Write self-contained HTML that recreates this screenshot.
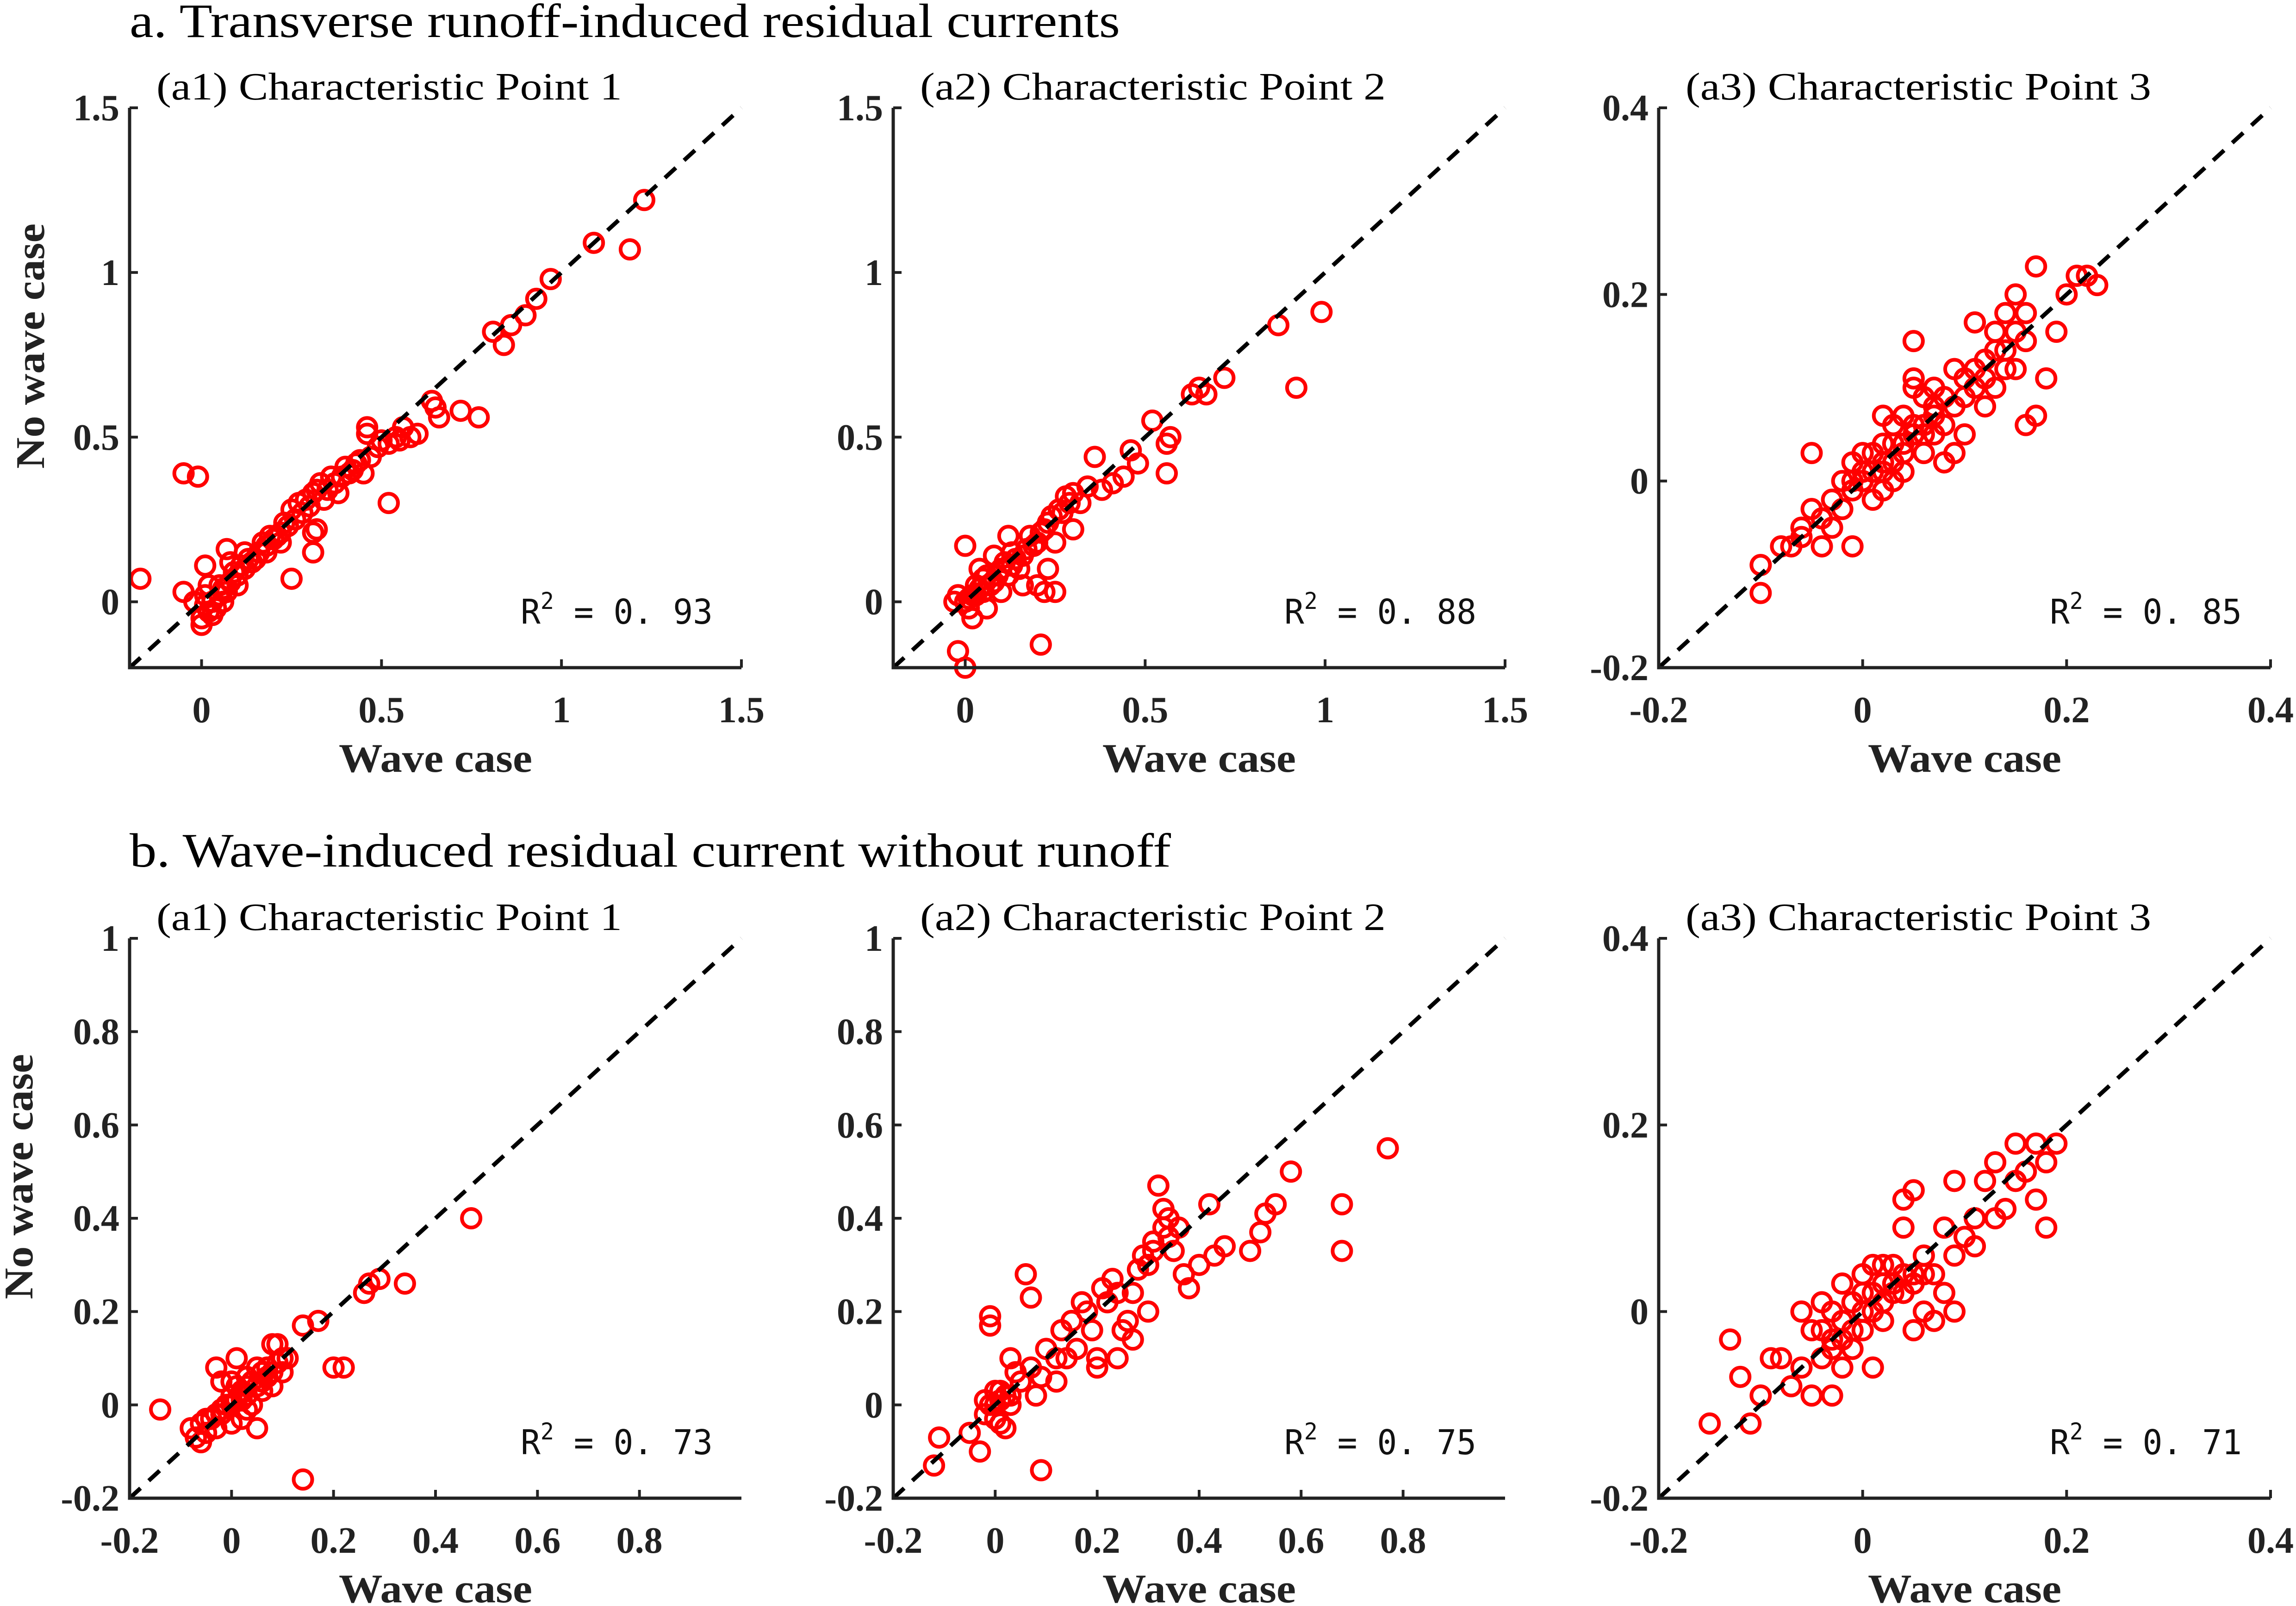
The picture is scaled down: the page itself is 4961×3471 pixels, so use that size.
<!DOCTYPE html>
<html><head><meta charset="utf-8"><style>
html,body{margin:0;padding:0;background:#fff;}
svg{display:block;}
</style></head><body>
<svg id="fig" width="4961" height="3471" viewBox="0 0 4961 3471" xmlns="http://www.w3.org/2000/svg">
<text x="280" y="80" font-family="Liberation Serif, serif" font-size="104" textLength="2140" lengthAdjust="spacingAndGlyphs">a. Transverse runoff-induced residual currents</text>
<text x="280" y="1873" font-family="Liberation Serif, serif" font-size="104" textLength="2250" lengthAdjust="spacingAndGlyphs">b. Wave-induced residual current without runoff</text>
</svg>
<script>
const a1Pts=[[-0.17,0.07],[-0.05,0.39],[-0.01,0.38],[-0.05,0.03],[0.01,0.11],[0.07,0.16],[0.12,0.15],[0.25,0.07],[0.31,0.15],[0.31,0.21],[0.32,0.22],[0.52,0.30],[0.46,0.53],[0.46,0.51],[0.56,0.53],[0.6,0.51],[0.64,0.61],[0.66,0.56],[0.72,0.58],[0.77,0.56],[0.65,0.59],[0.81,0.82],[0.84,0.78],[0.86,0.84],[0.9,0.87],[0.93,0.92],[0.97,0.98],[1.09,1.09],[1.19,1.07],[1.23,1.22],[0,-0.05],[0,-0.07],[0.02,-0.03],[0.03,0.0],[0.05,0.02],[0.06,0.04],[0.08,0.06],[0.1,0.08],[0.12,0.1],[0.14,0.12],[0.16,0.15],[0.18,0.17],[0.2,0.19],[0.22,0.21],[0.24,0.23],[0.26,0.25],[0.28,0.27],[0.3,0.29],[0.31,0.33],[0.33,0.36],[0.35,0.34],[0.37,0.36],[0.39,0.38],[0.4,0.41],[0.42,0.4],[0.44,0.43],[0.47,0.44],[0.49,0.47],[0.52,0.48],[0.55,0.49],[0.58,0.5],[0.27,0.3],[0.22,0.18],[0.18,0.15],[0.1,0.05],[0.04,-0.02],[-0.02,0.0],[0.01,0.02],[0.06,0.0],[0.34,0.31],[0.45,0.39],[0.38,0.33],[0.25,0.28],[0.15,0.13],[0.08,0.12],[0.02,0.05],[0.01,-0.01],[0.03,-0.04],[0.05,0.05],[0.07,0.03],[0.09,0.09],[0.11,0.11],[0.13,0.13],[0.17,0.18],[0.19,0.2],[0.21,0.2],[0.23,0.24],[0.29,0.31],[0.32,0.34],[0.36,0.38],[0.41,0.39],[0.43,0.42],[0.5,0.49],[0.54,0.5]];
const a2Pts=[[0,0.17],[-0.02,-0.15],[0.0,-0.2],[0.21,-0.13],[0.2,0.05],[0.22,0.03],[0.25,0.03],[0.23,0.1],[0.36,0.44],[0.46,0.46],[0.52,0.55],[0.48,0.42],[0.57,0.5],[0.56,0.48],[0.56,0.39],[0.63,0.63],[0.65,0.65],[0.67,0.63],[0.72,0.68],[0.87,0.84],[0.92,0.65],[0.99,0.88],[0,0],[0.01,-0.02],[0.02,0.02],[0.03,0.05],[0.05,0.03],[0.06,0.08],[0.08,0.06],[0.1,0.1],[0.12,0.08],[0.14,0.13],[0.15,0.1],[0.17,0.16],[0.18,0.2],[0.2,0.18],[0.22,0.22],[0.24,0.26],[0.26,0.28],[0.28,0.32],[0.3,0.33],[0.32,0.3],[0.34,0.35],[0.38,0.34],[0.41,0.36],[0.44,0.38],[0.3,0.22],[0.25,0.18],[0.12,0.2],[0.08,0.14],[0.04,0.1],[-0.02,0.02],[-0.03,0.0],[0.02,-0.05],[0.06,-0.02],[0.1,0.03],[0.16,0.05],[0.13,0.15],[0.01,0.01],[0.03,0.02],[0.04,0.04],[0.05,0.07],[0.07,0.05],[0.09,0.08],[0.11,0.12],[0.13,0.11],[0.16,0.14],[0.19,0.17],[0.21,0.21],[0.23,0.24],[0.27,0.27],[0.29,0.3]];
const a3Pts=[[-0.1,-0.12],[-0.1,-0.09],[-0.05,0.03],[0.05,0.15],[0.05,0.11],[0.05,0.1],[0.07,0.08],[-0.01,-0.07],[-0.06,-0.06],[0.17,0.23],[0.2,0.2],[0.21,0.22],[0.22,0.22],[0.23,0.21],[0.19,0.16],[0.18,0.11],[0.17,0.07],[0.16,0.06],[0.15,0.2],[0.14,0.18],[0.13,0.16],[0.12,0.13],[0.11,0.17],[0.12,0.08],[0.1,0.05],[0.09,0.03],[0.11,0.1],[0.08,0.09],[0.09,0.12],[0.07,0.05],[0.06,0.06],[0.06,0.03],[0.04,0.04],[0.03,0.02],[0.02,0.01],[0.01,0.03],[0,0],[-0.01,-0.01],[-0.02,-0.03],[-0.03,-0.02],[-0.04,-0.04],[-0.05,-0.03],[-0.06,-0.05],[-0.07,-0.07],[-0.08,-0.07],[-0.03,-0.05],[-0.02,0],[0.01,-0.02],[0.02,0.04],[0.03,0.06],[0.04,0.01],[0.05,0.05],[0.08,0.02],[0.1,0.09],[0.13,0.1],[0.15,0.12],[0.16,0.15],[0.14,0.14],[0.07,0.1],[0.02,0.07],[0.0,0.03],[-0.01,0.02],[0.12,0.11],[0.16,0.18],[-0.04,-0.07],[0.04,0.07],[0.06,0.09],[0.01,0.01],[0.02,0.02],[0.03,0.04],[0.04,0.03],[0.05,0.06],[0.06,0.05],[0.07,0.07],[0.08,0.06],[0.09,0.08],[0.1,0.11],[0.11,0.12],[0.13,0.14],[0.14,0.12],[0.15,0.16],[0.0,0.01],[-0.01,0.0],[0.02,-0.01],[0.03,0.0]];
const b1Pts=[[-0.14,-0.01],[-0.08,-0.05],[-0.07,-0.07],[-0.05,-0.06],[-0.04,-0.03],[-0.03,0.08],[-0.02,-0.02],[-0.01,0.0],[0,0.02],[0.01,0.1],[0.01,0.04],[0.02,-0.03],[0.03,0.02],[0.04,0.05],[0.05,-0.05],[0.05,0.08],[0.06,0.03],[0.07,0.06],[0.08,0.13],[0.09,0.13],[0.09,0.09],[0.1,0.07],[0.11,0.1],[0.14,-0.16],[0.14,0.17],[0.17,0.18],[0.2,0.08],[0.22,0.08],[0.26,0.24],[0.27,0.26],[0.29,0.27],[0.34,0.26],[0.47,0.4],[-0.06,-0.08],[0,-0.04],[0.02,0.01],[0.04,0.0],[-0.02,0.05],[0.06,0.07],[0.03,0.06],[0.08,0.04],[-0.03,-0.05],[-0.06,-0.04],[-0.05,-0.03],[-0.03,-0.02],[-0.02,-0.01],[0.0,0.0],[0.01,0.01],[0.02,0.03],[0.03,0.04],[0.05,0.04],[0.06,0.05],[0.07,0.08],[0.08,0.07],[0.1,0.1],[0.0,0.05],[0.03,-0.01]];
const b2Pts=[[-0.11,-0.07],[-0.12,-0.13],[-0.05,-0.06],[-0.03,-0.1],[-0.01,0.17],[-0.01,0.19],[0.03,0.1],[0.06,0.28],[0.07,0.23],[0.09,-0.14],[0.02,-0.05],[0,0],[0.01,0.03],[0.03,0.0],[0.05,0.05],[0.07,0.08],[0.09,0.06],[0.1,0.12],[0.12,0.1],[0.13,0.16],[0.15,0.18],[0.16,0.12],[0.18,0.2],[0.19,0.16],[0.2,0.1],[0.22,0.22],[0.23,0.27],[0.24,0.24],[0.25,0.16],[0.26,0.18],[0.27,0.14],[0.28,0.29],[0.29,0.32],[0.3,0.3],[0.31,0.35],[0.32,0.47],[0.33,0.42],[0.34,0.4],[0.35,0.33],[0.36,0.38],[0.37,0.28],[0.38,0.25],[0.4,0.3],[0.42,0.43],[0.43,0.32],[0.45,0.34],[0.5,0.33],[0.52,0.37],[0.53,0.41],[0.55,0.43],[0.58,0.5],[0.68,0.43],[0.68,0.33],[0.77,0.55],[0.2,0.08],[0.24,0.1],[0.12,0.05],[0.08,0.02],[-0.02,-0.02],[0.04,0.07],[0.17,0.22],[0.21,0.25],[0.3,0.2],[-0.01,0.0],[0.0,-0.03],[0.01,0.01],[0.02,0.02],[0.0,0.03],[-0.02,0.01],[0.01,-0.04],[0.03,0.02],[0.34,0.36],[0.33,0.38],[0.31,0.33],[0.27,0.24],[0.14,0.1]];
const b3Pts=[[-0.15,-0.12],[-0.13,-0.03],[-0.12,-0.07],[-0.11,-0.12],[-0.1,-0.09],[-0.09,-0.05],[-0.08,-0.05],[-0.07,-0.08],[-0.06,-0.06],[-0.05,-0.09],[-0.04,-0.05],[-0.03,-0.09],[-0.03,-0.04],[-0.02,-0.06],[-0.01,-0.04],[0.01,-0.06],[-0.06,0.0],[-0.04,0.01],[-0.02,0.03],[-0.01,0.01],[0,0.02],[0.01,0.0],[0.02,0.03],[0.03,0.05],[0.04,0.02],[0.04,0.12],[0.05,0.13],[0.04,0.09],[0.05,0.04],[0.06,0.06],[0.06,0.0],[0.07,-0.01],[0.08,0.02],[0.08,0.09],[0.09,0.14],[0.09,0.06],[0.09,0.0],[0.1,0.08],[0.11,0.07],[0.12,0.14],[0.13,0.16],[0.13,0.1],[0.14,0.11],[0.15,0.14],[0.15,0.18],[0.16,0.15],[0.17,0.18],[0.17,0.12],[0.18,0.09],[0.18,0.16],[0.19,0.18],[0.05,-0.02],[0.02,-0.01],[-0.03,0.0],[0.0,-0.02],[0.03,0.03],[0.07,0.04],[-0.05,-0.02],[0.01,0.05],[0.11,0.1],[-0.04,-0.02],[-0.03,-0.03],[-0.02,-0.01],[-0.01,-0.02],[0.0,0.0],[0.01,0.02],[0.02,0.01],[0.03,0.02],[0.04,0.04],[0.05,0.03],[0.06,0.04],[0.02,0.05],[0.0,0.04],[-0.02,-0.03]];
const ticksA=[0,0.5,1,1.5];
const ticksAlabels=["0","0.5","1","1.5"];
const ticksB=[-0.2,0,0.2,0.4,0.6,0.8,1];
const ticksBlabels=["-0.2","0","0.2","0.4","0.6","0.8","1"];
const ticksC=[-0.2,0,0.2,0.4];
const ticksClabels=["-0.2","0","0.2","0.4"];
const r2Labels=["0.93","0.88","0.85","0.73","0.75","0.71"];
const subtitles=["(a1) Characteristic Point 1","(a2) Characteristic Point 2","(a3) Characteristic Point 3","(a1) Characteristic Point 1","(a2) Characteristic Point 2","(a3) Characteristic Point 3"];

const NS="http://www.w3.org/2000/svg";
const svg=document.getElementById('fig');
function mk(tag,attrs,parent,text){const e=document.createElementNS(NS,tag);for(const k in attrs)e.setAttribute(k,attrs[k]);if(text!==undefined)e.textContent=text;(parent||svg).appendChild(e);return e;}
const lefts=[280,1930,3584], tops=[233,2028], W=1322, H=1210;
const panels=[
 {pts:a1Pts,min:-0.2,max:1.5,t:ticksA,tl:ticksAlabels,ylab:true},
 {pts:a2Pts,min:-0.2,max:1.5,t:ticksA,tl:ticksAlabels},
 {pts:a3Pts,min:-0.2,max:0.4,t:ticksC,tl:ticksClabels},
 {pts:b1Pts,min:-0.2,max:1.0,t:ticksB,tl:ticksBlabels,ylab:true,noMaxX:true},
 {pts:b2Pts,min:-0.2,max:1.0,t:ticksB,tl:ticksBlabels,noMaxX:true},
 {pts:b3Pts,min:-0.2,max:0.4,t:ticksC,tl:ticksClabels}
];
panels.forEach((p,i)=>{
 const L=lefts[i%3],T=tops[Math.floor(i/3)],B=T+H,R=L+W;
 const g=mk('g',{});
 
 
 const sx=v=>L+(v-p.min)/(p.max-p.min)*W;
 const sy=v=>B-(v-p.min)/(p.max-p.min)*H;
 const st=mk('text',{x:L+58,y:T-18,'font-family':'Liberation Serif, serif','font-size':84,textLength:1006,lengthAdjust:'spacingAndGlyphs'},g,subtitles[i]);
 
 
 p.pts.forEach(d=>{
  const c=mk('circle',{cx:sx(d[0]),cy:sy(d[1]),r:20,fill:'none',stroke:'#f00','stroke-width':8},g);
  
  
 });
 const dl=mk('line',{x1:sx(p.min),y1:sy(p.min),x2:sx(p.max),y2:sy(p.max),stroke:'#000','stroke-width':9,'stroke-dasharray':'32,24'},g);
 
 
 const ax=mk('path',{d:`M${L},${T} V${B} H${R}`,fill:'none',stroke:'#222','stroke-width':7},g);
 
 
 p.t.forEach((v,k)=>{
  if(v<p.min||v>p.max)return;
  if(!(p.noMaxX&&v===p.max)&&v>p.min){
   mk('line',{x1:sx(v),y1:B,x2:sx(v),y2:B-18,stroke:'#222','stroke-width':6},g);
  }
  if(v>p.min) mk('line',{x1:L,y1:sy(v),x2:L+18,y2:sy(v),stroke:'#222','stroke-width':6},g);
  if(!(p.noMaxX&&v===p.max)){
   const xt=mk('text',{x:sx(v),y:B+118,'text-anchor':'middle','font-family':'Liberation Serif, serif','font-weight':'bold','font-size':80,fill:'#222'},g,p.tl[k]);
   
   
  }
  const yt=mk('text',{x:L-22,y:sy(v)+27,'text-anchor':'end','font-family':'Liberation Serif, serif','font-weight':'bold','font-size':80,fill:'#222'},g,p.tl[k]);
  
  
 });
 const xl=mk('text',{x:L+W*0.5,y:B+225,'text-anchor':'middle','font-family':'Liberation Serif, serif','font-weight':'bold','font-size':88,fill:'#222',textLength:418,lengthAdjust:'spacingAndGlyphs'},g,'Wave case');
 
 
 if(p.ylab){
  const cx=i<3?95:70, cy=T+H*0.5-90;
  const yl=mk('text',{x:cx,y:cy,'text-anchor':'middle','font-family':'Liberation Serif, serif','font-weight':'bold','font-size':88,fill:'#222',transform:`rotate(-90 ${cx} ${cy})`,textLength:530,lengthAdjust:'spacingAndGlyphs'},g,'No wave case');
  
  
 }
 const r=mk('text',{x:L+845,y:B-95,'font-family':'DejaVu Sans Mono, Liberation Mono, monospace','font-size':74,fill:'#111',textLength:415,lengthAdjust:'spacingAndGlyphs'},g);
 
 
 mk('tspan',{},r,'R');
 mk('tspan',{dy:-32,'font-size':50},r,'2');
 mk('tspan',{dy:32},r,' = '+r2Labels[i].replace('.','. '));
});
</script>
</body></html>
